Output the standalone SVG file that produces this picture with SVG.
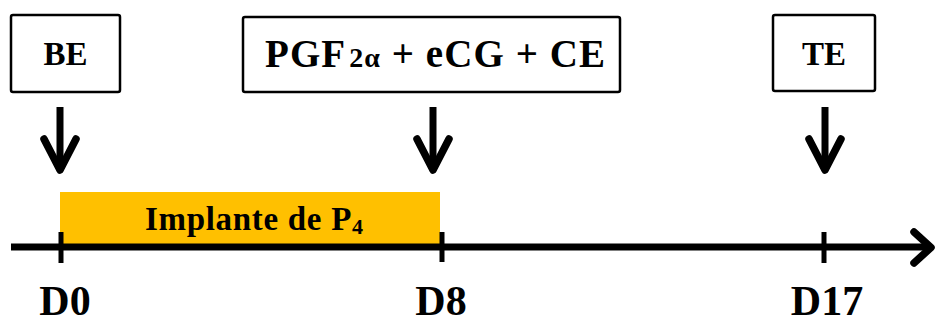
<svg xmlns="http://www.w3.org/2000/svg" width="936" height="325" viewBox="0 0 936 325">
<style>
.box{fill:#fff;stroke:#000;stroke-width:2.5}
.t{font-family:"Liberation Serif","Times New Roman",serif;font-weight:bold;fill:#000}
.arr{fill:none;stroke:#000;stroke-width:7.5;stroke-linecap:round;stroke-linejoin:round}
.shaft{stroke:#000;stroke-width:7}
.tick{stroke:#000;stroke-width:5}
</style>
<rect width="936" height="325" fill="#fff"/>
<g id="implant">
<rect x="60" y="192" width="380" height="55" fill="#FFC000"/>
<text class="t" x="145" y="230" font-size="33" textLength="218" lengthAdjust="spacing">Implante de P<tspan font-size="22" dy="4">4</tspan></text>
</g>
<g id="connectors">
<line class="shaft" x1="11" y1="247" x2="930" y2="247"/>
<polyline class="arr" points="914,232 931,247.5 914,263"/>
<line class="tick" x1="61" y1="232" x2="61" y2="263"/>
<line class="tick" x1="442" y1="232" x2="442" y2="262"/>
<line class="tick" x1="824" y1="232" x2="824" y2="263"/>
<line class="shaft" x1="60" y1="107" x2="60" y2="168"/>
<polyline class="arr" points="44,139 60,170 76,139"/>
<line class="shaft" x1="433" y1="107" x2="433" y2="168"/>
<polyline class="arr" points="417,139 433,170 449,139"/>
<line class="shaft" x1="825" y1="107" x2="825" y2="168"/>
<polyline class="arr" points="809,139 825,170 841,139"/>
</g>
<g id="BE">
<rect class="box" x="11" y="15" width="109" height="77" rx="2"/>
<text class="t" x="65.5" y="65" font-size="33" text-anchor="middle">BE</text>
</g>
<g id="PGF">
<rect class="box" x="243" y="17" width="377" height="75" rx="2"/>
<text class="t" x="265" y="67" font-size="39" textLength="340" lengthAdjust="spacing">PGF<tspan font-size="28" dx="3">2α</tspan> + eCG + CE</text>
</g>
<g id="TE">
<rect class="box" x="773" y="15" width="102" height="76" rx="2"/>
<text class="t" x="824" y="65" font-size="33" text-anchor="middle">TE</text>
</g>
<g id="labels">
<text class="t" x="65" y="315" font-size="42" text-anchor="middle">D0</text>
<text class="t" x="441" y="315" font-size="42" text-anchor="middle">D8</text>
<text class="t" x="827" y="315" font-size="42" text-anchor="middle">D17</text>
</g>
</svg>
